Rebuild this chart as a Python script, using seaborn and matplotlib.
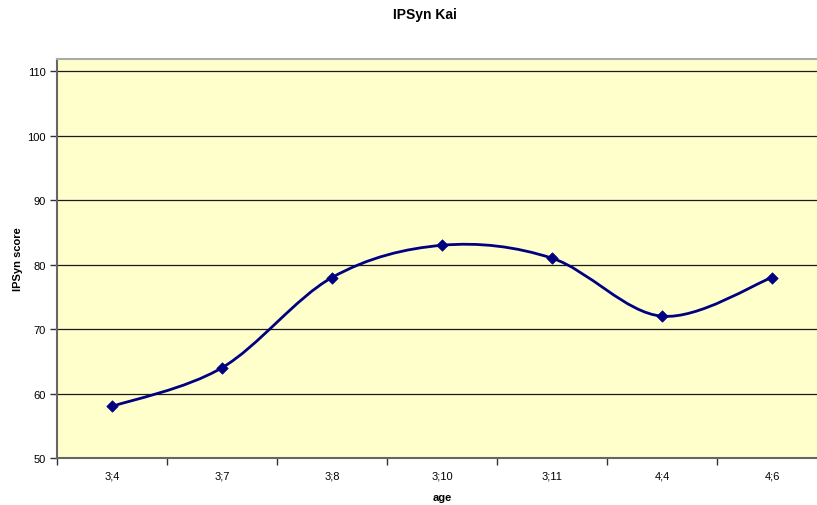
import numpy as np
import pandas as pd
import seaborn as sns
import matplotlib
matplotlib.use("Agg")
import matplotlib.pyplot as plt
from matplotlib.path import Path
from matplotlib.patches import PathPatch

ages = ["3;4", "3;7", "3;8", "3;10", "3;11", "4;4", "4;6"]
scores = [58, 64, 78, 83, 81, 72, 78]
y_ticks = [50, 60, 70, 80, 90, 100, 110]

sns.set_style("white")
plt.rcParams["font.family"] = ["Liberation Sans", "DejaVu Sans"]
plt.rcParams["text.color"] = "black"
plt.rcParams["axes.labelcolor"] = "black"
plt.rcParams["xtick.color"] = "black"
plt.rcParams["ytick.color"] = "black"

W, H = 817, 506
fig = plt.figure(figsize=(W / 100, H / 100), dpi=100)
ax = fig.add_axes([57 / W, 1 - 459 / H, 770 / W, 399 / H])
ax.set_facecolor("#FFFFCC")

df = pd.DataFrame({"idx": np.arange(len(ages)), "score": scores})

# smoothed line (Catmull-Rom style Bezier, like Excel smoothing)
xs = df["idx"].to_numpy(dtype=float)
ys = df["score"].to_numpy(dtype=float)
pts = np.column_stack([xs, ys])
verts = [pts[0]]
codes = [Path.MOVETO]
n = len(pts)
for i in range(n - 1):
    p0 = pts[i - 1] if i > 0 else pts[i]
    p1 = pts[i]
    p2 = pts[i + 1]
    p3 = pts[i + 2] if i + 2 < n else pts[i + 1]
    c1 = p1 + (p2 - p0) / 6.0
    c2 = p2 - (p3 - p1) / 6.0
    verts += [c1, c2, p2]
    codes += [Path.CURVE4] * 3
ax.add_patch(PathPatch(Path(verts, codes), facecolor="none", edgecolor="#000080", lw=2, zorder=3))

sns.scatterplot(data=df, x="idx", y="score", marker="D", color="#000080", s=34,
                edgecolor="#000080", linewidth=0.5, ax=ax, zorder=4, legend=False)

ax.set_xlim(-0.5, len(ages) - 0.5)
ax.set_ylim(50, 111.9)
ax.set_yticks(y_ticks)
ax.set_yticklabels([str(v) for v in y_ticks], fontsize=8)
ax.set_xticks(np.arange(len(ages)))
ax.set_xticklabels(ages, fontsize=8)
ax.set_xticks(np.arange(len(ages) + 1) - 0.5, minor=True)
ax.tick_params(axis="x", which="major", length=0, pad=9, bottom=False)
ax.tick_params(axis="x", which="minor", length=5, width=1, color="#333333",
               direction="out", bottom=True)
ax.tick_params(axis="y", which="major", length=5, width=1, color="#333333",
               direction="out", pad=3, left=True)
ax.yaxis.grid(True, color="#1a1a1a", lw=0.9)
ax.xaxis.grid(False)
ax.set_axisbelow(True)

for s in ["left", "bottom"]:
    ax.spines[s].set_color("#666666")
    ax.spines[s].set_linewidth(1.5)
ax.spines["top"].set_color("#aaaaaa")
ax.spines["top"].set_linewidth(1.5)
ax.spines["right"].set_visible(False)

ax.set_xlabel("age", fontsize=8, fontweight="bold", labelpad=8)
ax.set_ylabel("IPSyn score", fontsize=8, fontweight="bold", labelpad=3)
fig.text(425 / W, 1 - 15 / H, "IPSyn Kai", ha="center", va="center", fontsize=10, fontweight="bold")

fig.savefig("out.png", dpi=100)
